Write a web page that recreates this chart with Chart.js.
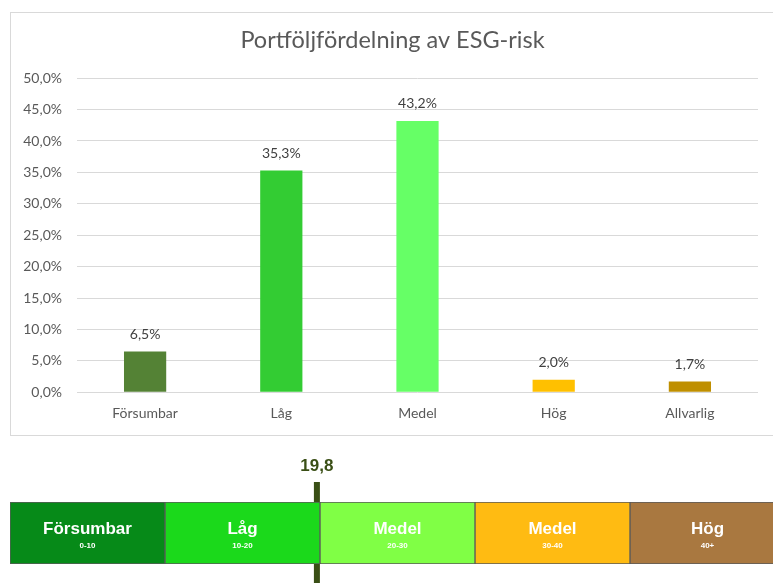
<!DOCTYPE html>
<html lang="sv">
<head>
    <meta charset="UTF-8">
    <title>Portföljfördelning av ESG-risk</title>
    <script src="https://cdn.jsdelivr.net/npm/chart.js"></script>
    <style>
        body { margin: 0; background: #fff; overflow: hidden; width: 773px; height: 583px; position: relative; }
        #box { position: absolute; left: 10px; top: 12px; width: 775px; height: 422px; border: 1px solid #d9d9d9; }
        #scale { position: absolute; left: 10px; top: 450px; }
    </style>
</head>
<body>
    <div id="box"><canvas id="esgChart" width="775" height="422"></canvas></div>
    <canvas id="scale" width="780" height="133"></canvas>
    <script>
        // stapeldiagram
        const categories = ['Försumbar', 'Låg', 'Medel', 'Hög', 'Allvarlig'];
        const shares = [6.5, 35.3, 43.2, 2.0, 1.7];
        const barColors = ['#548235', '#33cc33', '#66ff66', '#ffc000', '#bf8f00'];
        const yMax = 50;
        const yStep = 5;

        // riskskala
        const bandLabels = ['Försumbar', 'Låg', 'Medel', 'Medel', 'Hög'];
        const bandRanges = ['0-10', '10-20', '20-30', '30-40', '40+'];
        const bandWidths = [10, 10, 10, 10, 10];
        const bandColors = ['#068a18', '#1bd91b', '#80ff45', '#ffbb12', '#a97840'];
        const portfolioScore = 19.8;

        const fmt = v => v.toFixed(1).replace('.', ',');

        // etiketter ovanför staplarna
        const valueLabels = {
            id: 'valueLabels',
            afterDatasetsDraw(chart) {
                const ctx = chart.ctx;
                const meta = chart.getDatasetMeta(0);
                ctx.save();
                ctx.font = '14px Lato';
                ctx.fillStyle = '#404040';
                ctx.textAlign = 'center';
                ctx.textBaseline = 'bottom';
                meta.data.forEach((bar, i) => {
                    ctx.fillText(fmt(shares[i]) + '%', bar.x, bar.y - 10);
                });
                ctx.restore();
            }
        };

        new Chart(document.getElementById('esgChart').getContext('2d'), {
            type: 'bar',
            data: {
                labels: categories,
                datasets: [{
                    data: shares,
                    backgroundColor: barColors,
                    borderWidth: 0,
                    categoryPercentage: 1,
                    barPercentage: 0.31
                }]
            },
            options: {
                responsive: false,
                animation: false,
                layout: { padding: { left: 0, right: 12, top: 0, bottom: 8 } },
                scales: {
                    x: {
                        grid: { display: false },
                        border: { display: false },
                        ticks: { color: '#595959', font: { family: 'Lato', size: 14 }, padding: 5 }
                    },
                    y: {
                        min: 0,
                        max: yMax,
                        afterFit: s => { s.width = 66; },
                        ticks: {
                            stepSize: yStep,
                            color: '#595959',
                            font: { family: 'Lato', size: 14 },
                            padding: 15,
                            callback: v => fmt(v) + '%'
                        },
                        grid: { color: '#d9d9d9', drawTicks: false },
                        border: { display: false }
                    },
                    // tom högeraxel, bara för marginalen till höger
                    yRight: {
                        position: 'right',
                        afterFit: s => { s.width = 16; },
                        ticks: { display: false },
                        grid: { display: false },
                        border: { display: false }
                    }
                },
                plugins: {
                    legend: { display: false },
                    tooltip: { enabled: false },
                    title: {
                        display: true,
                        text: 'Portföljfördelning av ESG-risk',
                        color: '#595959',
                        font: { family: 'Lato', size: 23.5, weight: 'normal' },
                        padding: { top: 13, bottom: 24 }
                    }
                }
            },
            plugins: [valueLabels]
        });

        // text i segmenten + markör
        const bandText = {
            id: 'bandText',
            beforeDatasetsDraw(chart) {
                const ctx = chart.ctx;
                const x = chart.scales.x.getPixelForValue(portfolioScore);
                ctx.save();
                ctx.fillStyle = '#3a4f16';
                ctx.fillRect(x - 3, 32, 6, chart.height - 32);
                ctx.font = 'bold 17px "Liberation Sans"';
                ctx.textAlign = 'center';
                ctx.textBaseline = 'middle';
                ctx.fillText(fmt(portfolioScore), x, 16);
                ctx.restore();
            },
            afterDatasetsDraw(chart) {
                const ctx = chart.ctx;
                const xs = chart.scales.x;
                const area = chart.chartArea;
                const mid = (area.top + area.bottom) / 2;
                let start = 0;
                ctx.save();
                ctx.fillStyle = '#fff';
                ctx.textAlign = 'center';
                ctx.textBaseline = 'middle';
                bandWidths.forEach((w, i) => {
                    const cx = xs.getPixelForValue(start + w / 2);
                    ctx.font = 'bold 17px "Liberation Sans"';
                    ctx.fillText(bandLabels[i], cx, mid - 4);
                    ctx.font = 'bold 8px "Liberation Sans"';
                    ctx.fillText(bandRanges[i], cx, mid + 13);
                    start += w;
                });
                ctx.restore();
            }
        };

        new Chart(document.getElementById('scale').getContext('2d'), {
            type: 'bar',
            data: {
                labels: ['ESG'],
                datasets: bandWidths.map((w, i) => ({
                    data: [w],
                    backgroundColor: bandColors[i],
                    borderColor: '#5a5a5a',
                    borderWidth: 1,
                    borderSkipped: false,
                    categoryPercentage: 1,
                    barPercentage: 1
                }))
            },
            options: {
                indexAxis: 'y',
                responsive: false,
                animation: false,
                layout: { padding: { left: 0, right: 5, top: 52, bottom: 19 } },
                scales: {
                    x: { stacked: true, min: 0, max: 50, display: false },
                    y: { stacked: true, display: false }
                },
                plugins: { legend: { display: false }, tooltip: { enabled: false } }
            },
            plugins: [bandText]
        });
    </script>
</body>
</html>
